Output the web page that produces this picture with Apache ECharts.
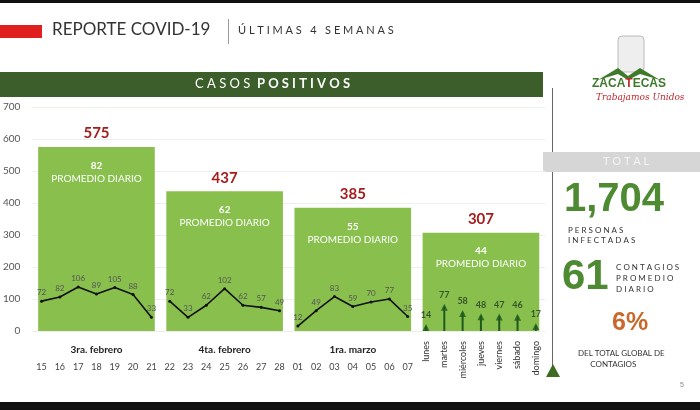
<!DOCTYPE html>
<html><head><meta charset="utf-8">
<script src="https://cdn.jsdelivr.net/npm/echarts@6/dist/echarts.min.js"></script>
<style>html,body{margin:0;padding:0;background:#fff}#c{width:700px;height:410px}</style>
</head><body><div id="c"></div>
<script>
const weeks = ["3ra. febrero", "4ta. febrero", "1ra. marzo", ""];
const weekTotals = [575, 437, 385, 307];
const weekAvg = [82, 62, 55, 44];
const days = ["15","16","17","18","19","20","21","22","23","24","25","26","27","28","01","02","03","04","05","06","07","","","","","","",""];
const dayNames = ["","","","","","","","","","","","","","","","","","","","","","lunes","martes","miércoles","jueves","viernes","sábado","domingo"];
const daily = [72,82,106,89,105,88,33, 72,33,62,102,62,57,49, 12,49,83,59,70,77,35];
const lastWeek = [14,77,58,48,47,46,17];

const chart = echarts.init(document.getElementById("c"));
const font = "Lato";
// one line per week so the three weeks are not joined
const weekLine = (w) => days.map((d, i) => (Math.floor(i / 7) === w && i < 21) ? daily[i] : null);
const arrowData = days.map((d, i) => i >= 21 ? lastWeek[i - 21] : null);

const option = {
  animation: false,
  textStyle: { fontFamily: font },
  grid: { left: 31, right: 155, top: 107, bottom: 79 },
  xAxis: [
    { type: "category", data: weeks, axisLine: { show: false }, axisTick: { show: false },
      axisLabel: { fontWeight: "bold", fontSize: 10, color: "#222", margin: 14 } },
    { type: "category", data: days, position: "bottom", offset: 24, axisLine: { show: false }, axisTick: { show: false },
      axisLabel: { fontSize: 9, color: "#444", interval: 0 } },
    { type: "category", data: dayNames, position: "bottom", offset: 0, axisLine: { show: false }, axisTick: { show: false },
      axisLabel: { fontSize: 9, color: "#333", interval: 0, rotate: 90, margin: 10 } }
  ],
  yAxis: [
    { type: "value", min: 0, max: 700, interval: 100,
      axisLabel: { color: "#555", fontSize: 10, margin: 12 },
      splitLine: { lineStyle: { color: "#eee" } } },
    { type: "value", min: 0, max: 540, show: false }
  ],
  series: [
    { type: "bar", data: weekTotals, barWidth: "91%", itemStyle: { color: "#88bf4d" },
      label: { show: true, position: "top", color: "#a51c1c", fontWeight: "bold", fontSize: 15, distance: 6 } },
    { type: "bar", data: weekTotals, barWidth: "91%", barGap: "-100%", itemStyle: { color: "transparent" },
      label: { show: true, position: "insideTop", distance: 12, color: "#fff", lineHeight: 13,
        formatter: (p) => "{a|" + weekAvg[p.dataIndex] + "}\n{b|PROMEDIO DIARIO}",
        rich: { a: { fontWeight: "bold", fontSize: 10, color: "#fff" }, b: { fontSize: 10, color: "#fff" } } } },
    ...[0, 1, 2].map((w) => ({
      type: "line", xAxisIndex: 1, yAxisIndex: 1, data: weekLine(w), connectNulls: false,
      symbol: "circle", symbolSize: 3, lineStyle: { color: "#111", width: 1.6 }, itemStyle: { color: "#111" },
      label: { show: true, position: "top", color: "#555", fontSize: 8, distance: 3 }
    })),
    { type: "bar", xAxisIndex: 1, data: arrowData, barWidth: 2, itemStyle: { color: "#1e5a1e" }, z: 3 },
    { type: "scatter", xAxisIndex: 1, data: arrowData, symbol: "triangle", symbolSize: [7, 7], symbolOffset: [0, 1],
      itemStyle: { color: "#1e5a1e" }, z: 4,
      label: { show: true, position: "top", color: "#1e3a1e", fontWeight: "bold", fontSize: 9, distance: 4 } }
  ],
  graphic: [
    { type: "rect", shape: { x: 0, y: 0, width: 700, height: 3 }, style: { fill: "#111" } },
    { type: "rect", shape: { x: 0, y: 402, width: 700, height: 8 }, style: { fill: "#111" } },
    { type: "rect", shape: { x: 0, y: 25, width: 42, height: 13 }, style: { fill: "#e0201e" } },
    { type: "text", left: 52, top: 21, style: { text: "REPORTE COVID-19", fontSize: 17, fill: "#333", fontFamily: font } },
    { type: "rect", shape: { x: 228, y: 19, width: 1, height: 25 }, style: { fill: "#999" } },
    { type: "text", left: 238, top: 25, style: { text: "Ú L T I M A S   4   S E M A N A S", fontSize: 11, fill: "#333", fontFamily: font } },
    { type: "rect", shape: { x: 0, y: 72, width: 543, height: 25 }, style: { fill: "#3b5e2b" } },
    { type: "text", left: 195, top: 77, style: { text: "{a|C A S O S  }{b|P O S I T I V O S}", fill: "#fff",
      rich: { a: { fontSize: 13, fill: "#fff", fontFamily: font }, b: { fontSize: 13, fontWeight: "bold", fill: "#fff", fontFamily: font } } } },
    { type: "rect", shape: { x: 552, y: 88, width: 1, height: 285 }, style: { fill: "#666" } },
    { type: "polygon", shape: { points: [[546, 377], [553, 364], [560, 377]] }, style: { fill: "#3d6b22" } },
    { type: "rect", shape: { x: 618, y: 36, width: 26, height: 36, r: 4 }, style: { fill: "#eee", stroke: "#bbb" } },
    { type: "polygon", shape: { points: [[598, 80], [618, 68], [628, 76], [640, 68], [660, 80], [640, 74], [628, 80], [618, 74]] }, style: { fill: "#3d7a2a" } },
    { type: "text", left: 592, top: 78, style: { text: "{g|ZACA}{r|T}{g|ECAS}", rich: { g: { fill: "#3d7a2a", fontWeight: "bold", fontSize: 12, fontFamily: "Liberation Sans" }, r: { fill: "#c0262c", fontWeight: "bold", fontSize: 12, fontFamily: "Liberation Sans" } } } },
    { type: "text", left: 596, top: 93, style: { text: "Trabajamos Unidos", fontSize: 9, fontStyle: "italic", fill: "#c0262c", fontFamily: "DejaVu Serif" } },
    { type: "rect", shape: { x: 543, y: 152, width: 157, height: 20 }, style: { fill: "#d6d6d6" } },
    { type: "text", left: 603, top: 156, style: { text: "T O T A L", fontSize: 11, fill: "#f4f4f4", fontFamily: font } },
    { type: "text", left: 564, top: 180, style: { text: "1,704", fontSize: 40, fontWeight: "bold", fill: "#4e8a32", fontFamily: "Liberation Sans" } },
    { type: "text", left: 568, top: 225, style: { text: "P E R S O N A S\nI N F E C T A D A S", fontSize: 8, lineHeight: 10, fill: "#333", fontFamily: font } },
    { type: "text", left: 562, top: 256, style: { text: "61", fontSize: 42, fontWeight: "bold", fill: "#4e8a32", fontFamily: "Liberation Sans" } },
    { type: "text", left: 616, top: 262, style: { text: "C O N T A G I O S\nP R O M E D I O\nD I A R I O", fontSize: 8, lineHeight: 11, fill: "#333", fontFamily: font } },
    { type: "text", left: 612, top: 311, style: { text: "6%", fontSize: 25, fontWeight: "bold", fill: "#c8692a", fontFamily: "Liberation Sans" } },
    { type: "text", left: 578, top: 348, style: { text: "DEL TOTAL GLOBAL DE\n      CONTAGIOS", fontSize: 8, lineHeight: 11, fill: "#333", fontFamily: font } },
    { type: "text", left: 680, top: 382, style: { text: "5", fontSize: 7, fill: "#888" } }
  ]
};
chart.setOption(option);
</script></body></html>
